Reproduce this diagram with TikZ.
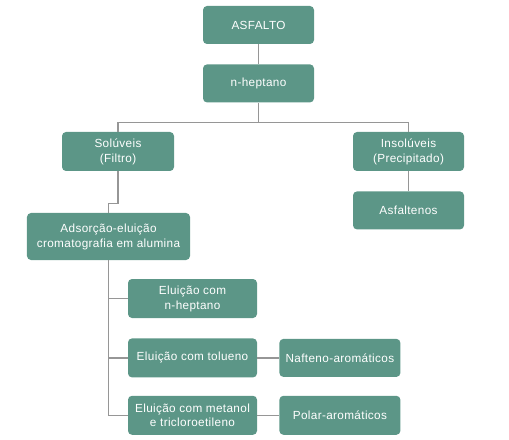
\documentclass[tikz,border=0pt]{standalone}
\usepackage{fontspec}
\setmainfont{Liberation Sans}[LetterSpace=3]
\usetikzlibrary{positioning,calc}

\definecolor{boxteal}{RGB}{92,150,135}
\definecolor{linegray}{RGB}{150,150,150}

\begin{document}
\begin{tikzpicture}[x=1bp, y=-1bp, node distance=20bp,
  box/.style={draw=none, fill=boxteal, rounded corners=4bp, text=white,
    align=center, font=\fontsize{11.8}{15}\selectfont,
    minimum width=111bp, minimum height=38bp, inner sep=2bp},
  link/.style={draw=linegray, line width=1.2bp}]
\useasboundingbox (0,0) rectangle (509,440);
\node[box] (asfalto) at (258.5,25) {ASFALTO};
\node[box, below=of asfalto] (heptano) {n-heptano};
\node[box, minimum width=112bp, minimum height=39bp] (soluveis) at (118,151.5) {Solúveis\\(Filtro)};
\node[box, minimum height=39bp] (insoluveis) at (408.5,151.5) {Insolúveis\\(Precipitado)};
\node[box, below=of insoluveis] (asfaltenos) {Asfaltenos};
\node[box, minimum width=163bp, minimum height=47bp] (adsorcao) at (108.5,236.5) {Adsorção-eluição\\cromatografia em alumina};
\node[box, minimum width=129bp, minimum height=39bp] (eluhep) at (192.5,298.5) {Eluição com\\n-heptano};
\node[box, minimum width=129bp, minimum height=39bp, below=20bp of eluhep] (elutol) {Eluição com tolueno};
\node[box, minimum width=129bp, minimum height=39bp, below=18bp of elutol] (elumet) {Eluição com metanol\\e tricloroetileno};
\node[box, minimum width=121bp, right=22bp of elutol] (nafteno) {Nafteno-aromáticos};
\node[box, minimum width=121bp, minimum height=39bp, right=22bp of elumet] (polar) {Polar-aromáticos};
\coordinate[below=20bp of heptano.south] (split);
% tree
\draw[link] (asfalto) -- (heptano);
\draw[link] (heptano) -- (split) -| (soluveis);
\draw[link] (split) -| (insoluveis);
\draw[link] (insoluveis) -- (asfaltenos);
\draw[link] (soluveis.south) -- ++(0,32) -| (adsorcao.north);
\draw[link] (adsorcao.south) |- (eluhep);
\draw[link] (adsorcao.south) |- (elutol);
\draw[link] (adsorcao.south) |- (elumet);
\draw[link] (elutol) -- (nafteno);
\draw[link] (elumet) -- (polar);
\end{tikzpicture}
\end{document}
